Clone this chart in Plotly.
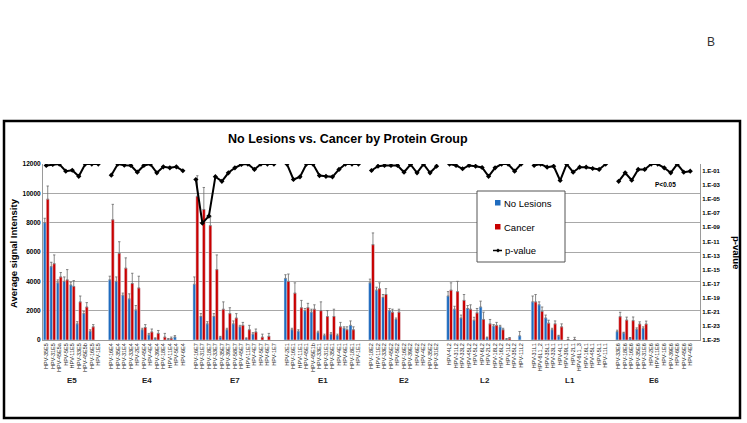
import math
import plotly.graph_objects as go

# ---------------- data ----------------
group_names = ["E5", "E4", "E7", "E1", "E2", "L2", "L1", "E6"]
group_sizes = [9, 12, 13, 12, 11, 12, 12, 12]

categories = [
    # E5
    "HPV-35E5", "HPV-31E5", "HPV-45E5a", "HPV-5E5", "HPV-11E5", "HPV-33E5", "HPV-45E5b", "HPV-16E5", "HPV-1E5",
    # E4
    "HPV-16E4", "HPV-35E4", "HPV-31E4", "HPV-33E4", "HPV-2E4", "HPV-45E4", "HPV-4E4", "HPV-39E4", "HPV-18E4",
    "HPV-11E4", "HPV-5E4", "HPV-6E4",
    # E7
    "HPV-16E7", "HPV-31E7", "HPV-18E7", "HPV-33E7", "HPV-35E7", "HPV-39E7", "HPV-58E7", "HPV-45E7", "HPV-11E7",
    "HPV-4E7", "HPV-5E7", "HPV-6E7", "HPV-1E7",
    # E1
    "HPV-2E1", "HPV-16E1", "HPV-11E1", "HPV-45E1", "HPV-45E1b", "HPV-33E1", "HPV-31E1", "HPV-35E1", "HPV-4E1",
    "HPV-6E1", "HPV-18E1", "HPV-1E1",
    # E2
    "HPV-18E2", "HPV-11E2", "HPV-33E2", "HPV-45E2", "HPV-5E2", "HPV-16E2", "HPV-39E2", "HPV-6E2", "HPV-4E2",
    "HPV-35E2", "HPV-31E2",
    # L2
    "HPV-4L2", "HPV-31L2", "HPV-33L2", "HPV-45L2", "HPV-5L2", "HPV-6L2", "HPV-2L2", "HPV-18L2", "HPV-16L2",
    "HPV-1L2", "HPV-35L2", "HPV-11L2",
    # L1
    "HPV-31L1", "HPV-6L1_2", "HPV-35L1", "HPV-33L1", "HPV-4L1", "HPV-39L1", "HPV-2L1", "HPV-6L1_3", "HPV-16L1",
    "HPV-45L1", "HPV-5L1", "HPV-11L1",
    # E6
    "HPV-33E6", "HPV-18E6", "HPV-16E6", "HPV-35E6", "HPV-31E6", "HPV-2E6", "HPV-11E6", "HPV-1E6", "HPV-39E6",
    "HPV-6E6", "HPV-45E6", "HPV-4E6",
]

no_lesions = [
    8000, 5000, 3900, 4000, 3750, 1100, 1800, 600, 0,
    4100, 4000, 3050, 2800, 2050, 700, 350, 100, 0, 50, 200, 0,
    3800, 1600, 1100, 1600, 200, 700, 1100, 900, 100, 400, 0, 0, 0,
    4200, 700, 600, 2000, 1900, 500, 300, 400, 300, 800, 1000, 0,
    3900, 3400, 2900, 2000, 1400, 0, 0, 0, 0, 0, 0,
    3000, 2100, 1500, 2150, 1350, 2250, 150, 950, 900, 50, 0, 280,
    2600, 2400, 1500, 700, 270, 0, 0, 0, 0, 0, 0, 0,
    570, 480, 140, 730, 800, 0, 0, 0, 0, 0, 0, 0,
]
cancer = [
    9600, 5200, 4300, 4100, 3650, 2600, 2250, 900, 0,
    8200, 5900, 4900, 3850, 3550, 850, 550, 450, 200, 100, 0, 0,
    9800, 8900, 7800, 4800, 2100, 1800, 1500, 1000, 700, 550, 200, 250, 0,
    4000, 3200, 2200, 2200, 2100, 2000, 1600, 1600, 900, 700, 700, 0,
    6500, 3500, 3100, 1900, 1900, 0, 0, 0, 0, 0, 0,
    3400, 3300, 2700, 2100, 1850, 1400, 1100, 1000, 700, 120, 0, 0,
    2600, 1950, 1150, 1100, 900, 30, 30, 0, 0, 0, 0, 0,
    1590, 1360, 1320, 1090, 1090, 0, 0, 0, 0, 0, 0, 0,
]
no_lesions_err = [
    300, 300, 200, 300, 200, 150, 150, 100, 0,
    250, 300, 150, 350, 300, 100, 100, 50, 0, 50, 100, 0,
    500, 200, 150, 200, 50, 100, 200, 100, 50, 100, 0, 0, 0,
    250, 100, 100, 150, 200, 100, 100, 100, 100, 100, 300, 0,
    250, 200, 200, 150, 100, 0, 0, 0, 0, 0, 0,
    300, 200, 200, 200, 200, 400, 50, 100, 100, 50, 0, 300,
    400, 200, 200, 100, 50, 0, 0, 0, 0, 0, 0, 0,
    100, 50, 30, 100, 100, 0, 0, 0, 0, 0, 0, 0,
]
cancer_err = [
    900, 600, 300, 700, 400, 400, 300, 150, 0,
    1050, 800, 700, 700, 800, 200, 200, 200, 250, 100, 0, 0,
    1400, 1500, 600, 1000, 500, 400, 300, 200, 300, 200, 200, 200, 0,
    500, 700, 500, 300, 300, 600, 400, 500, 300, 200, 200, 0,
    800, 400, 400, 200, 200, 0, 0, 0, 0, 0, 0,
    500, 700, 400, 300, 300, 500, 300, 200, 100, 50, 0, 0,
    500, 300, 200, 200, 200, 150, 150, 0, 0, 0, 0, 0,
    300, 200, 250, 150, 200, 0, 0, 0, 0, 0, 0, 0,
]
p_values = [
    0.62, 0.85, 0.97, 0.095, 0.13, 0.018, 0.97, 0.97, 0.97,
    0.026, 0.97, 0.68, 0.62, 0.068, 0.62, 0.97, 0.056, 0.4, 0.29, 0.4, 0.11,
    6.3e-3, 4e-9, 4e-8, 0.016, 3.5e-3, 0.056, 0.29, 0.85, 0.97, 0.17, 0.97, 0.97, 0.97,
    0.97, 6.3e-3, 0.015, 0.97, 0.97, 0.023, 0.018, 0.015, 0.17, 0.97, 0.97, 0.97,
    0.12, 0.49, 0.62, 0.62, 0.62, 0.068, 0.85, 0.056, 0.97, 0.056, 0.49,
    0.97, 0.62, 0.21, 0.62, 0.49, 0.32, 0.018, 0.29, 0.97, 0.97, 0.095, 0.97,
    0.62, 0.97, 0.35, 0.49, 4.5e-3, 0.97, 0.068, 0.35, 0.35, 0.23, 0.17, 0.97,
    3.5e-3, 0.056, 4.9e-3, 0.17, 0.17, 0.97, 0.97, 0.29, 0.056, 0.97, 0.068, 0.095,
]
p_threshold = 0.05
right_ticks = [10.0 ** -e for e in range(1, 26, 2)]
right_ticktext = ["1.E-%02d" % e for e in range(1, 26, 2)]

# ---------------- layout helpers ----------------
W, H = 747, 423
L, R, T, B = 43, 700, 164, 340
PW, PH = R - L, B - T


def px(x):
    return (x - L) / PW


def py(y):
    return (B - y) / PH


# positions with one empty slot between groups
positions, group_centers, p_x, p_y = [], [], [], []
pos, k = 0, 0
for gi, n in enumerate(group_sizes):
    idx = list(range(pos, pos + n))
    positions += idx
    group_centers.append(sum(idx) / n)
    p_x += idx + [pos + n]
    p_y += p_values[k:k + n] + [None]
    k += n
    pos += n + 1
n_slots = pos - 1

FONT = "Arial, Liberation Sans, sans-serif"
BLUE = "#1f6cbf"
RED = "#c80000"


def nz(v):
    return [x if x else None for x in v]


fig = go.Figure()
fig.add_trace(go.Bar(
    x=positions, y=nz(no_lesions), name="No Lesions", marker_color=BLUE,
    error_y=dict(type="data", array=no_lesions_err, arrayminus=[0] * len(no_lesions),
                 symmetric=False, color="#6a6a6a", thickness=0.8, width=1.2),
))
fig.add_trace(go.Bar(
    x=positions, y=nz(cancer), name="Cancer", marker_color=RED,
    error_y=dict(type="data", array=cancer_err, arrayminus=[0] * len(cancer),
                 symmetric=False, color="#6a6a6a", thickness=0.8, width=1.2),
))
fig.add_trace(go.Scatter(
    x=p_x, y=p_y, name="p-value", yaxis="y2", mode="lines+markers",
    line=dict(color="black", width=2), marker=dict(color="black", size=4, symbol="diamond"),
    connectgaps=False,
))

thr = math.log10(p_threshold)
shapes = [
    # outer frame
    dict(type="rect", xref="paper", yref="paper", x0=px(4), x1=px(740), y0=py(418), y1=py(121),
         line=dict(color="black", width=2.5), layer="below"),
    # p < 0.05 line
    dict(type="line", xref="paper", yref="y2", x0=0, x1=1, y0=thr, y1=thr,
         line=dict(color="#e03030", width=1)),
    # legend box
    dict(type="rect", xref="paper", yref="paper", x0=px(477), x1=px(565), y0=py(262), y1=py(191),
         line=dict(color="#555555", width=1), fillcolor="white", layer="above"),
    dict(type="rect", xref="paper", yref="paper", x0=px(495), x1=px(500.5), y0=py(205.5), y1=py(200),
         line=dict(width=0), fillcolor=BLUE, layer="above"),
    dict(type="rect", xref="paper", yref="paper", x0=px(495), x1=px(500.5), y0=py(229.5), y1=py(224),
         line=dict(width=0), fillcolor=RED, layer="above"),
    dict(type="line", xref="paper", yref="paper", x0=px(493), x1=px(502), y0=py(250.5), y1=py(250.5),
         line=dict(color="black", width=1.5), layer="above"),
    dict(type="path", xref="paper", yref="paper",
         path="M %f,%f L %f,%f L %f,%f L %f,%f Z" % (px(498), py(248.5), px(500), py(250.5),
                                                    px(498), py(252.5), px(496), py(250.5)),
         fillcolor="black", line=dict(width=0), layer="above"),
]


def txt(text, x, y, size, xanchor="center", angle=0, color="black", xref="paper"):
    return dict(text=text, xref=xref, yref="paper", x=x, y=y, xanchor=xanchor, yanchor="middle",
                textangle=angle, showarrow=False, font=dict(size=size, color=color, family=FONT))


annotations = [
    txt("<b>No Lesions vs. Cancer by Protein Group</b>", px(348), py(139), 12.5),
    txt("B", px(711), py(42), 12, color="#333333"),
    txt("<b>Average signal Intensity</b>", px(13), py(253), 9.5, angle=-90),
    txt("<b>p-value</b>", px(737), py(252), 9.5, angle=90),
    txt("<b>P<0.05</b>", px(665), py(184), 6.5),
    txt("No Lesions", px(501.5), py(203), 9.5, xanchor="left"),
    txt("Cancer", px(501.5), py(227), 9.5, xanchor="left"),
    txt("p-value", px(502.5), py(250), 9.5, xanchor="left"),
]
for name, c in zip(group_names, group_centers):
    annotations.append(txt("<b>%s</b>" % name, c, py(380), 8, color="#222222", xref="x"))

fig.update_layout(
    width=W, height=H,
    margin=dict(l=L, r=W - R, t=T, b=H - B, pad=0),
    paper_bgcolor="white", plot_bgcolor="white",
    showlegend=False,
    barmode="group", bargap=0.1, bargroupgap=0,
    font=dict(family=FONT, color="black"),
    shapes=shapes, annotations=annotations,
    xaxis=dict(range=[-0.5, n_slots + 0.5], tickmode="array", tickvals=positions, ticktext=categories,
               tickangle=-90, tickfont=dict(size=5.5, color="#222222"), showgrid=False, zeroline=False,
               showline=True, linecolor="#9a9a9a", linewidth=1, ticks=""),
    yaxis=dict(range=[0, 12000], dtick=2000, tickformat="d", showgrid=True, gridcolor="#a8a8a8",
               gridwidth=1, zeroline=False, showline=True, linecolor="#9a9a9a", linewidth=1,
               tickfont=dict(size=6.5, color="black", weight="bold"), ticks=""),
    yaxis2=dict(overlaying="y", side="right", type="log", range=[-25, 0], tickmode="array",
                tickvals=right_ticks, ticktext=right_ticktext, showgrid=False, zeroline=False,
                showline=True, linecolor="#9a9a9a", linewidth=1,
                tickfont=dict(size=6, color="black", weight="bold"), ticks=""),
)

fig.write_html("out.html", config={"displayModeBar": False},
               post_script="document.body.style.margin='0';document.body.style.overflow='hidden';")
